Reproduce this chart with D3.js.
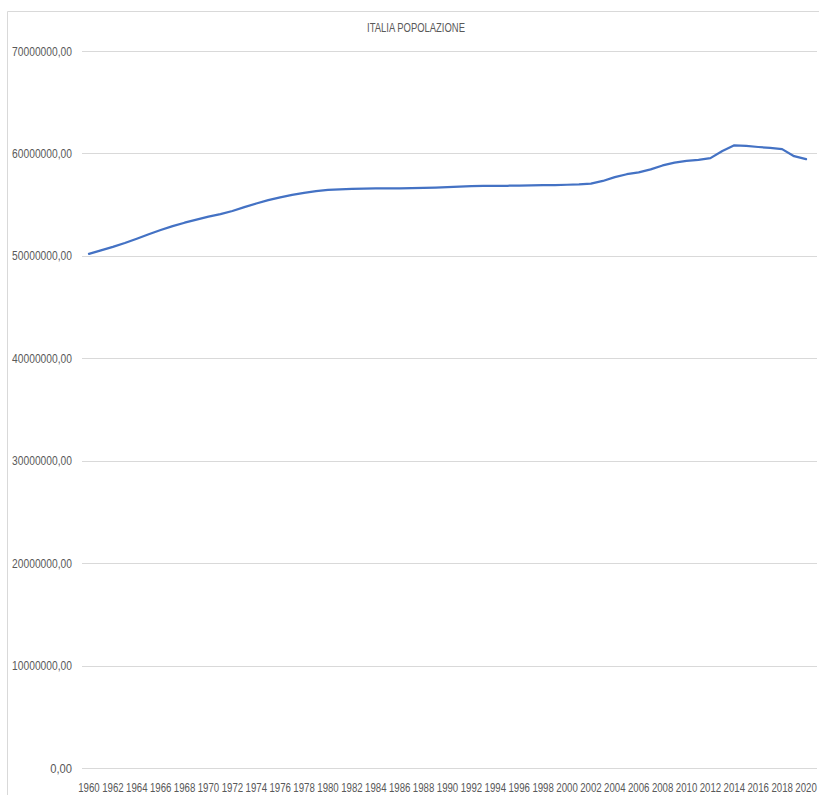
<!DOCTYPE html>
<html>
<head>
<meta charset="utf-8">
<script src="https://cdn.jsdelivr.net/npm/d3@7"></script>
<style>
  body { margin: 0; background: #fff; }
  text { font-family: "Liberation Sans", Arial, sans-serif; fill: #595959; }
</style>
</head>
<body>
<div class="chart"></div>
<script>
// Chart data
const years = d3.range(1960, 2021);
const population = [
  50199700, 50536350, 50879450, 51252000, 51675350, 52112350, 52519000, 52900500,
  53235750, 53537950, 53821850, 54073490, 54381345, 54751406, 55110868, 55441001,
  55718260, 55955411, 56155143, 56317749, 56433883, 56501675, 56543548, 56564074,
  56576718, 56593071, 56596155, 56601931, 56629288, 56671781, 56719240, 56758521,
  56797087, 56831821, 56843400, 56844303, 56860281, 56890372, 56906744, 56916317,
  56942108, 56974100, 57059007, 57313203, 57685327, 57969484, 58143979, 58438310,
  58826731, 59095365, 59277417, 59379449, 59539717, 60233948, 60789140, 60730582,
  60627498, 60536709, 60421760, 59729081, 59438851
];
const yTicks = [0, 10000000, 20000000, 30000000, 40000000, 50000000, 60000000, 70000000];
const xTickYears = years.filter(y => y % 2 === 0);
const title = "ITALIA POPOLAZIONE";

const width = 819;
const height = 795;

const svg = d3.select(".chart")
  .append("svg")
  .attr("width", width)
  .attr("height", height);

// Squeeze a text horizontally so it looks like a condensed font
function condense(sel, targetWidth) {
  sel.each(function(d) {
    const t = d3.select(this);
    const w = this.getComputedTextLength();
    const target = typeof targetWidth === "function" ? targetWidth(d) : targetWidth;
    const x = +t.attr("x"), y = +t.attr("y");
    t.attr("x", 0).attr("y", 0)
      .attr("transform", `translate(${x},${y}) scale(${target / w},1)`);
  });
}

// Chart area border (only top and left visible)
svg.append("path")
  .attr("d", `M7.5,${height} V11.5 H${width}`)
  .attr("fill", "none")
  .attr("stroke", "#d9d9d9")
  .attr("stroke-width", 1);

// Scales
const xScale = d3.scalePoint()
  .domain(years)
  .range([83, 812])
  .padding(0.5);

const yScale = d3.scaleLinear()
  .domain([0, 70000000])
  .range([768, 51]);

// Gridlines
svg.append("g")
  .selectAll("line")
  .data(yTicks)
  .join("line")
  .attr("x1", 82)
  .attr("x2", 817)
  .attr("y1", d => Math.round(yScale(d)) + 0.5)
  .attr("y2", d => Math.round(yScale(d)) + 0.5)
  .attr("stroke", "#d9d9d9")
  .attr("stroke-width", 1);

// Y axis labels
const yFmt = d => d3.format("d")(d) + ",00";
svg.append("g")
  .selectAll("text")
  .data(yTicks)
  .join("text")
  .attr("x", 72)
  .attr("y", d => yScale(d))
  .attr("dy", "0.35em")
  .attr("text-anchor", "end")
  .attr("font-size", 13)
  .text(yFmt)
  .call(condense, d => yFmt(d).length * 5.45);

// X axis labels
svg.append("g")
  .selectAll("text")
  .data(xTickYears)
  .join("text")
  .attr("x", d => xScale(d))
  .attr("y", 787)
  .attr("dy", "0.35em")
  .attr("text-anchor", "middle")
  .attr("font-size", 13)
  .text(d => d)
  .call(condense, 21.5);

// Line
const line = d3.line()
  .x((d, i) => xScale(years[i]))
  .y(d => yScale(d));

svg.append("path")
  .datum(population)
  .attr("d", line)
  .attr("fill", "none")
  .attr("stroke", "#4472c4")
  .attr("stroke-width", 2.25)
  .attr("stroke-linejoin", "round")
  .attr("stroke-linecap", "round");

// Title
svg.append("text")
  .attr("x", 416)
  .attr("y", 28)
  .attr("dy", "0.35em")
  .attr("text-anchor", "middle")
  .attr("font-size", 12.5)
  .text(title)
  .call(condense, 98);
</script>
</body>
</html>
